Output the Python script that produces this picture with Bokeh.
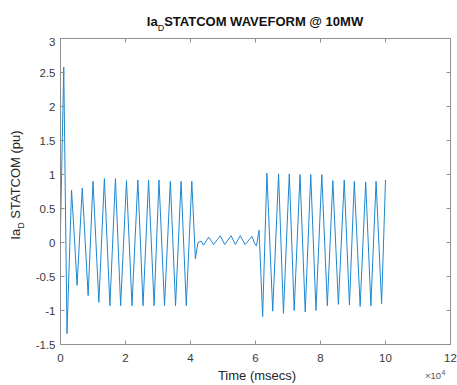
import math
from bokeh.plotting import figure
from bokeh.models import Range1d, FixedTicker, Div
from bokeh.layouts import column, row
from bokeh.embed import file_html
from bokeh.resources import INLINE

# ---- data (time in units of 1e4 msecs) ----
t_1e4 = [0.0, 0.10, 0.20, 0.34, 0.43, 0.51, 0.67, 0.85, 1.00, 1.18,
         1.35, 1.52, 1.69, 1.85, 2.03, 2.20, 2.38, 2.54, 2.71, 2.88,
         3.03, 3.20, 3.38, 3.54, 3.71, 3.87, 4.04, 4.15, 4.23, 4.33,
         4.40, 4.56, 4.71, 4.92, 5.05, 5.25, 5.38, 5.53, 5.68, 5.89,
         5.97, 6.03, 6.11, 6.22, 6.35, 6.53, 6.71, 6.86, 7.04, 7.19,
         7.37, 7.53, 7.70, 7.86, 8.04, 8.21, 8.38, 8.55, 8.73, 8.89,
         9.04, 9.22, 9.39, 9.55, 9.71, 9.88, 10.0]
ia_d = [0.2, 2.58, -1.34, 0.77, 0.05, -0.63, 0.80, -0.78, 0.90, -0.88,
        0.94, -0.93, 0.94, -0.93, 0.91, -0.93, 0.92, -0.93, 0.92, -0.93,
        0.92, -0.93, 0.90, -0.93, 0.90, -0.93, 0.90, -0.24, 0.0, 0.02,
        -0.04, 0.08, -0.03, 0.10, -0.03, 0.10, -0.03, 0.10, -0.03, 0.09,
        -0.01, -0.05, 0.18, -1.09, 1.02, -1.01, 1.01, -1.04, 1.01, -1.0,
        1.0, -1.02, 1.0, -1.0, 1.0, -0.93, 0.91, -0.91, 0.92, -0.92,
        0.90, -0.94, 0.89, -0.93, 0.90, -0.90, 0.92]

x_ticks = [0, 2, 4, 6, 8, 10, 12]
y_ticks = [-1.5, -1, -0.5, 0, 0.5, 1, 1.5, 2, 2.5, 3]
y_tick_labels = ["-1.5", "-1", "-0.5", "0", "0.5", "1", "1.5", "2", "2.5", "3"]

title_sym, title_sub, title_rest = "Ia", "D", "STATCOM WAVEFORM @ 10MW"
ylab_sym, ylab_sub, ylab_rest = "Ia", "D", " STATCOM (pu)"
xlabel = "Time (msecs)"
exp_base, exp_pow = "\u00d710", "4"

FONT = "Liberation Sans"
AX = "#8f8f8f"
TXT = "#3a3a3a"
LINE = "#1f87d0"

p = figure(width=429, height=328, output_backend="svg", toolbar_location=None,
           x_range=Range1d(x_ticks[0], x_ticks[-1]),
           y_range=Range1d(y_ticks[0], y_ticks[-1]),
           min_border_left=32, min_border_right=7, min_border_top=1,
           min_border_bottom=21)
p.grid.visible = False
p.outline_line_color = AX
p.background_fill_color = "white"
p.border_fill_color = "white"

p.line(t_1e4, ia_d, line_color=LINE, line_width=1.0, line_join="round")

# inward ticks on the top and right edges of the box
p.scatter(x=x_ticks, y=[y_ticks[-1]] * len(x_ticks), marker="dash",
          angle=math.pi / 2, size=8, line_color=AX, line_width=1)
p.scatter(x=[x_ticks[-1]] * len(y_ticks), y=y_ticks, marker="dash",
          size=8, line_color=AX, line_width=1)

for ax in (p.xaxis[0], p.yaxis[0]):
    ax.axis_line_color = AX
    ax.major_tick_line_color = AX
    ax.minor_tick_line_color = None
    ax.major_tick_in = 4
    ax.major_tick_out = 0
    ax.major_label_text_font = FONT
    ax.major_label_text_font_size = "11.5px"
    ax.major_label_text_color = TXT
p.xaxis.ticker = FixedTicker(ticks=x_ticks)
p.yaxis.ticker = FixedTicker(ticks=y_ticks)
p.yaxis.major_label_overrides = {v: s for v, s in zip(y_ticks, y_tick_labels)}
p.xaxis.major_label_standoff = 9
p.yaxis.major_label_standoff = 5

F = f"font-family:'{FONT}',Arial,sans-serif;white-space:nowrap;position:absolute;"

title_html = (
    f"<div style=\"position:relative;width:457px;height:37px;\">"
    f"<div style=\"{F}left:0;top:15px;width:510px;text-align:center;font-size:13px;"
    f"font-weight:bold;line-height:13px;color:#111;\">{title_sym}"
    f"<span style=\"font-size:9px;font-weight:normal;position:relative;top:5px;\">{title_sub}</span>"
    f"{title_rest}</div></div>")
title_div = Div(text=title_html, width=457, height=37, margin=0)

ylab_html = (
    f"<div style=\"position:relative;width:28px;height:328px;\">"
    f"<div style=\"{F}left:-84.5px;top:140.5px;width:200px;height:14px;line-height:14px;"
    f"text-align:center;font-size:13px;color:#262626;transform:rotate(-90deg);\">{ylab_sym}"
    f"<span style=\"font-size:9px;position:relative;top:4px;\">{ylab_sub}</span>{ylab_rest}</div></div>")
ylab_div = Div(text=ylab_html, width=28, height=328, margin=0)

bottom_html = (
    f"<div style=\"position:relative;width:457px;height:19px;\">"
    f"<div style=\"{F}left:0;top:3.5px;width:514px;text-align:center;font-size:13px;"
    f"line-height:13px;color:#262626;\">{xlabel}</div>"
    f"<div style=\"{F}left:425px;top:5.5px;font-size:9.5px;line-height:9.5px;color:#555;\">{exp_base}</div>"
    f"<div style=\"{F}left:441.5px;top:4px;font-size:7px;line-height:7px;color:#555;\">{exp_pow}</div>"
    f"</div>")
bottom_div = Div(text=bottom_html, width=457, height=19, margin=0)

layout = column(title_div, row(ylab_div, p, spacing=0), bottom_div, spacing=0)

open("out.html", "w").write(file_html(layout, INLINE))
